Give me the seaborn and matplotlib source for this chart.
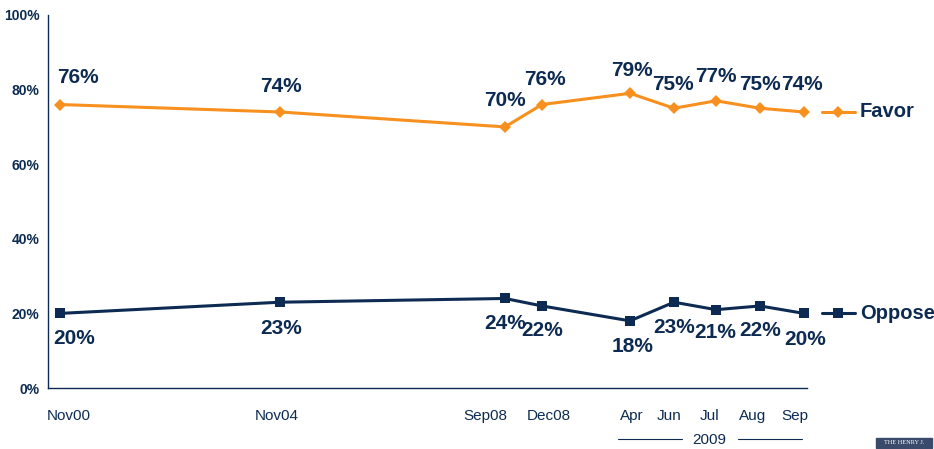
import seaborn as sns
import matplotlib.pyplot as plt
import pandas as pd

# survey points (x = position along the axis, uneven like the original slide)
periods = ['Nov00', 'Nov04', 'Sep08', 'Dec08', 'Apr', 'Jun', 'Jul', 'Aug', 'Sep']
x_pos = [60, 280, 505, 542, 630, 674, 716, 760, 804]
favor = [76, 74, 70, 76, 79, 75, 77, 75, 74]
oppose = [20, 23, 24, 22, 18, 23, 21, 22, 20]

# where the period names sit (not exactly under the points on the slide)
label_x = [69, 277, 485, 549, 632, 669, 710, 753, 795]

# value label offsets in pixels (dx, dy), dy positive = up
favor_off = [(18, 27), (1, 25), (0, 26), (3, 25), (2, 23), (-1, 24), (0, 24), (0, 24), (-2, 27)]
oppose_off = [(14, -25), (1, -26), (0, -25), (0, -25), (3, -26), (0, -25), (-1, -23), (0, -25), (1, -26)]

ORANGE = '#F7901E'
NAVY = '#0D2B52'

df = pd.DataFrame({'period': periods, 'x': x_pos, 'Favor': favor, 'Oppose': oppose})

sns.set_style('white')
plt.rcParams['font.family'] = ['Liberation Sans', 'DejaVu Sans']

fig = plt.figure(figsize=(9.34, 4.49), dpi=100)
ax = fig.add_axes([48 / 934, 61 / 449, 759 / 934, 373 / 449])

sns.lineplot(data=df, x='x', y='Favor', ax=ax, color=ORANGE, lw=2.2,
             marker='D', markersize=6, markeredgewidth=0, clip_on=False)
sns.lineplot(data=df, x='x', y='Oppose', ax=ax, color=NAVY, lw=2.2,
             marker='s', markersize=7, markeredgewidth=0, clip_on=False)

px = 72 / 100
for x, v, (dx, dy) in zip(x_pos, favor, favor_off):
    ax.annotate(f'{v}%', (x, v), xytext=(dx * px, dy * px), textcoords='offset points',
                ha='center', va='center', fontsize=15, fontweight='bold', color=NAVY)
for x, v, (dx, dy) in zip(x_pos, oppose, oppose_off):
    ax.annotate(f'{v}%', (x, v), xytext=(dx * px, dy * px), textcoords='offset points',
                ha='center', va='center', fontsize=15, fontweight='bold', color=NAVY)

# series labels at the right end
for v, name, col, mk, ms in [(favor[-1], 'Favor', ORANGE, 'D', 6), (oppose[-1], 'Oppose', NAVY, 's', 7)]:
    ax.plot([822, 855], [v, v], color=col, lw=2.2, clip_on=False)
    ax.plot([838], [v], marker=mk, color=col, markersize=ms, markeredgewidth=0, clip_on=False)
    ax.text(860, v, name, ha='left', va='center', fontsize=14.5, fontweight='bold', color=NAVY)

ax.set_xlim(48, 807)
ax.set_ylim(0, 100)
ax.set_yticks(range(0, 101, 20))
ax.set_yticklabels([f'{t}%' for t in range(0, 101, 20)], fontsize=10, fontweight='bold', color=NAVY)
ax.set_xticks(label_x)
ax.set_xticklabels(periods, fontsize=11, color=NAVY)
ax.tick_params(axis='x', length=0, pad=15)
ax.tick_params(axis='y', length=5, width=1, color=NAVY, direction='out', pad=1)
ax.set_xlabel('')
ax.set_ylabel('')

for s in ['top', 'right']:
    ax.spines[s].set_visible(False)
for s in ['left', 'bottom']:
    ax.spines[s].set_color(NAVY)
    ax.spines[s].set_linewidth(1)

# 2009 group label with rules
fig.text(709 / 934, 1 - 440 / 449, '2009', ha='center', va='center', fontsize=11, color=NAVY)
fig.add_artist(plt.Line2D([618 / 934, 682 / 934], [1 - 439 / 449] * 2, color=NAVY, lw=0.8))
fig.add_artist(plt.Line2D([738 / 934, 802 / 934], [1 - 439 / 449] * 2, color=NAVY, lw=0.8))

# small logo box
fig.patches.append(plt.Rectangle((876 / 934, 1 - 448 / 449), 56 / 934, 10 / 449,
                                 transform=fig.transFigure, color='#3a4a6a', figure=fig))
fig.text(904 / 934, 1 - 443 / 449, 'THE HENRY J.', ha='center', va='center',
         fontsize=4.5, color='white', family='Liberation Serif')

fig.savefig('out.png', dpi=100)
